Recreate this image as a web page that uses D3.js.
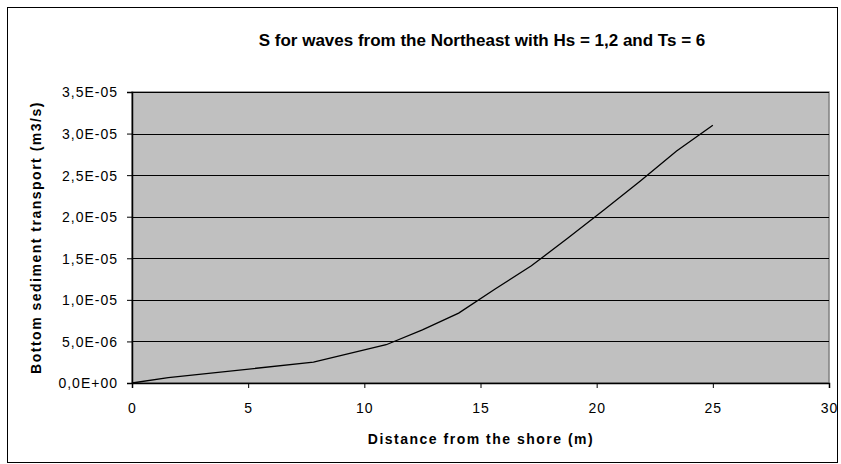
<!DOCTYPE html>
<html>
<head>
<meta charset="utf-8">
<script src="https://cdn.jsdelivr.net/npm/d3@7"></script>
<style>
  body { margin: 0; background: #fff; }
  svg { display: block; font-family: "Liberation Sans", Arial, sans-serif; }
</style>
</head>
<body>
<div id="chart"></div>
<script>
// distance from the shore (m)
var distance = [0, 1.56, 7.81, 10.94, 12.5, 14.06, 15.63, 17.19, 18.75, 20.31, 21.88, 23.44, 25];
// bottom sediment transport (m3/s)
var transport = [0, 6.5e-7, 2.5e-6, 4.6e-6, 6.4e-6, 8.4e-6, 1.13e-5, 1.41e-5, 1.74e-5, 2.08e-5, 2.43e-5, 2.79e-5, 3.10e-5];
var xTicks = [0, 5, 10, 15, 20, 25, 30];
var yTicks = [0, 5e-6, 1e-5, 1.5e-5, 2e-5, 2.5e-5, 3e-5, 3.5e-5];

var w = 841, h = 464;
var plotLeft = 132, plotRight = 829, plotTop = 92, plotBottom = 383;

var svg = d3.select("#chart").append("svg")
  .attr("width", w)
  .attr("height", h);

// outer chart border
svg.append("rect")
  .attr("x", 7.5).attr("y", 7.5)
  .attr("width", 830).attr("height", 455)
  .attr("fill", "#fff")
  .attr("stroke", "#000")
  .attr("stroke-width", 1);

var x = d3.scaleLinear().domain([0, 30]).range([plotLeft, plotRight]);
var y = d3.scaleLinear().domain([0, 3.5e-5]).range([plotBottom, plotTop]);

// plot area
svg.append("rect")
  .attr("x", plotLeft).attr("y", plotTop)
  .attr("width", plotRight - plotLeft).attr("height", plotBottom - plotTop)
  .attr("fill", "#c0c0c0")
  .attr("stroke", "#808080")
  .attr("stroke-width", 1.5);

// gridlines
svg.append("g")
  .selectAll("line")
  .data(yTicks.slice(1))
  .join("line")
  .attr("x1", plotLeft).attr("x2", plotRight)
  .attr("y1", function(d) { return Math.round(y(d)) + 0.5; })
  .attr("y2", function(d) { return Math.round(y(d)) + 0.5; })
  .attr("stroke", "#000")
  .attr("stroke-width", 1);

function fmt(d) {
  var s = d.toExponential(1).replace(".", ",");
  var m = s.match(/e([+-])(\d+)/);
  var e = m[2].length < 2 ? "0" + m[2] : m[2];
  return s.replace(/e[+-]\d+/, "E" + m[1] + e);
}

var xAxis = svg.append("g")
  .attr("transform", "translate(0," + plotBottom + ")")
  .call(d3.axisBottom(x).tickValues(xTicks).tickSize(5).tickPadding(15));

var yAxis = svg.append("g")
  .attr("transform", "translate(" + plotLeft + ",0)")
  .call(d3.axisLeft(y).tickValues(yTicks).tickSize(5).tickPadding(9).tickFormat(fmt));

[xAxis, yAxis].forEach(function(a) {
  a.attr("font-size", null).attr("font-family", null);
  a.select(".domain").attr("stroke", "#000").attr("stroke-width", 1.5);
  a.selectAll(".tick line").attr("stroke", "#000");
  a.selectAll("text")
    .attr("fill", "#000")
    .style("font-size", "14px")
    .style("letter-spacing", "1px");
});
xAxis.selectAll("text").attr("dy", "0.71em");
yAxis.selectAll("text").attr("dy", "0.35em");

// data line
var line = d3.line()
  .x(function(d, i) { return x(distance[i]); })
  .y(function(d) { return y(d); });

svg.append("path")
  .datum(transport)
  .attr("d", line)
  .attr("fill", "none")
  .attr("stroke", "#000")
  .attr("stroke-width", 1.3);

// title
svg.append("text")
  .attr("x", 482).attr("y", 46)
  .attr("text-anchor", "middle")
  .style("font-size", "17px")
  .style("font-weight", "bold")
  .text("S for waves from the Northeast with Hs = 1,2 and Ts = 6");

svg.append("text")
  .attr("x", 481).attr("y", 444)
  .attr("text-anchor", "middle")
  .style("font-size", "14px")
  .style("font-weight", "bold")
  .style("letter-spacing", "1.5px")
  .text("Distance from the shore (m)");

svg.append("text")
  .attr("transform", "translate(41," + (plotTop + plotBottom) / 2 + ") rotate(-90)")
  .attr("text-anchor", "middle")
  .style("font-size", "14px")
  .style("font-weight", "bold")
  .style("letter-spacing", "1.5px")
  .text("Bottom sediment transport (m3/s)");
</script>
</body>
</html>
